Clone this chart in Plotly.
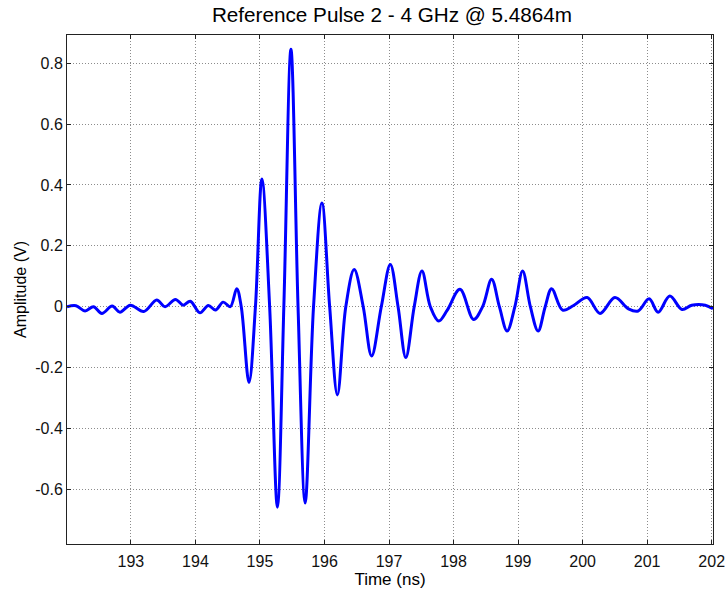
import plotly.graph_objects as go

time_ns = [192.01, 192.15, 192.29, 192.42, 192.55, 192.71, 192.83, 192.99, 193.2, 193.40,
           193.53, 193.69, 193.81, 193.92, 194.07, 194.20, 194.31, 194.43, 194.54, 194.64,
           194.71, 194.83, 194.93, 195.03, 195.15, 195.27, 195.37, 195.48, 195.59, 195.70,
           195.83, 195.96, 196.08, 196.20, 196.33, 196.46, 196.60, 196.73, 196.88, 197.02,
           197.14, 197.26, 197.39, 197.51, 197.64, 197.77, 197.90, 198.10, 198.31, 198.45,
           198.59, 198.71, 198.83, 198.95, 199.07, 199.19, 199.31, 199.42, 199.52, 199.69,
           199.86, 200.07, 200.27, 200.50, 200.71, 200.86, 201.03, 201.17, 201.35, 201.54,
           201.69, 201.9, 202.02]
amplitude_v = [0.0, 0.003, -0.014, 0.0, -0.022, 0.002, -0.018, 0.005, -0.016, 0.022,
               0.0, 0.024, 0.005, 0.018, -0.02, 0.004, -0.011, 0.015, 0.0, 0.059,
               0.0, -0.249, 0.0, 0.42, 0.0, -0.659, 0.0, 0.846, 0.0, -0.645,
               0.0, 0.341, 0.0, -0.29, 0.0, 0.122, 0.0, -0.162, 0.0, 0.139,
               0.0, -0.167, 0.0, 0.117, 0.0, -0.047, -0.012, 0.057, -0.042, 0.0,
               0.09, 0.0, -0.08, 0.0, 0.117, 0.0, -0.08, 0.0, 0.059, -0.011,
               0.004, 0.03, -0.022, 0.03, -0.007, -0.014, 0.026, -0.018, 0.035, -0.009,
               0.005, 0.005, -0.007]

x_ticks = [193, 194, 195, 196, 197, 198, 199, 200, 201, 202]
x_tick_labels = ["193", "194", "195", "196", "197", "198", "199", "200", "201", "202"]
y_ticks = [-0.6, -0.4, -0.2, 0, 0.2, 0.4, 0.6, 0.8]
y_tick_labels = ["-0.6", "-0.4", "-0.2", "0", "0.2", "0.4", "0.6", "0.8"]

fig = go.Figure()
fig.add_trace(go.Scatter(x=time_ns, y=amplitude_v, mode="lines",
                         line=dict(color="#0000FF", width=3, shape="spline", smoothing=1.0),
                         showlegend=False))

font = "Liberation Sans, Arial, sans-serif"
axis_common = dict(showline=True, linecolor="#222222", linewidth=1, mirror="ticks",
                   ticks="inside", ticklen=4, tickcolor="#222222", automargin=False,
                   ticklabeloverflow="allow",
                   showgrid=True, gridcolor="rgba(0,0,0,0.45)", griddash="1px,2px", gridwidth=1,
                   zeroline=False, tickfont=dict(family=font, size=16, color="#111111"))

fig.update_layout(
    width=725, height=592,
    margin=dict(l=67, r=12, t=35, b=48),
    paper_bgcolor="white", plot_bgcolor="white",
    title=dict(text="Reference Pulse 2 - 4 GHz @ 5.4864m", x=392 / 725, xanchor="center",
               xref="container", y=1 - 15 / 592, yref="container", yanchor="middle",
               font=dict(family=font, size=20.7, color="black")),
    xaxis=dict(range=[192.01, 202.02], tickvals=x_ticks, ticktext=x_tick_labels,
               ticklabelstandoff=3,
               title=dict(text="Time (ns)", font=dict(family=font, size=17, color="black"), standoff=0),
               **axis_common),
    yaxis=dict(range=[-0.78, 0.893], tickvals=y_ticks, ticktext=y_tick_labels,
               title=dict(text="Amplitude (V)", font=dict(family=font, size=16, color="black"), standoff=4),
               **axis_common),
)

fig.write_html("out.html", config={"displayModeBar": False},
               post_script="document.body.style.margin='0';")
